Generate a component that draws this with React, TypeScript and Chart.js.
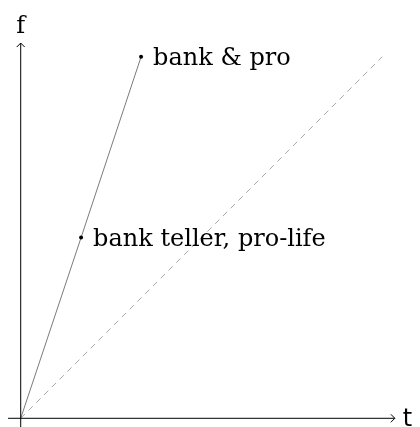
import React, { useEffect, useRef } from "react";
import { Chart, registerables } from "chart.js";

Chart.register(...registerables);

// data (t = truth, f = frequency)
const tValues = [0, 0.167, 0.333];
const fValues = [0, 0.5, 1.0];
const pointLabels = ["", "bank teller, pro-life", "bank & pro"];
const diagT = [0, 1];
const diagF = [0, 1];
const xAxisRange = [-0.035, 1.035];
const yAxisRange = [-0.035, 1.038];
const xAxisTitle = "t";
const yAxisTitle = "f";

const axesPlugin = {
  id: "tikzAxes",
  afterDatasetsDraw(chart: any) {
    const { ctx, scales } = chart;
    const xs = scales.x;
    const ys = scales.y;
    const x0 = xs.getPixelForValue(0);
    const y0 = ys.getPixelForValue(0);
    ctx.save();
    ctx.strokeStyle = "#000";
    ctx.lineWidth = 1;
    // x axis
    const xa = xs.getPixelForValue(xAxisRange[0]);
    const xb = xs.getPixelForValue(xAxisRange[1]);
    ctx.beginPath();
    ctx.moveTo(xa, y0);
    ctx.lineTo(xb, y0);
    ctx.stroke();
    ctx.beginPath();
    ctx.moveTo(xb - 4, y0 - 4);
    ctx.lineTo(xb, y0);
    ctx.lineTo(xb - 4, y0 + 4);
    ctx.stroke();
    // y axis
    const ya = ys.getPixelForValue(yAxisRange[0]);
    const yb = ys.getPixelForValue(yAxisRange[1]);
    ctx.beginPath();
    ctx.moveTo(x0, ya);
    ctx.lineTo(x0, yb);
    ctx.stroke();
    ctx.beginPath();
    ctx.moveTo(x0 - 4, yb + 4);
    ctx.lineTo(x0, yb);
    ctx.lineTo(x0 + 4, yb + 4);
    ctx.stroke();
    // axis titles
    ctx.fillStyle = "#000";
    ctx.font = "24px 'DejaVu Sans'";
    ctx.textAlign = "left";
    ctx.textBaseline = "middle";
    ctx.fillText(xAxisTitle, xb + 8, y0 + 1);
    ctx.font = "24px 'DejaVu Serif'";
    ctx.textAlign = "center";
    ctx.textBaseline = "alphabetic";
    ctx.fillText(yAxisTitle, x0, yb - 10);
    // point labels
    ctx.textAlign = "left";
    ctx.font = "24px 'DejaVu Serif'";
    for (let i = 0; i < pointLabels.length; i++) {
      if (!pointLabels[i]) continue;
      const px = xs.getPixelForValue(tValues[i]);
      const py = ys.getPixelForValue(fValues[i]);
      ctx.fillText(pointLabels[i], px + 12, py + 8);
    }
    ctx.restore();
  },
};

export default function App() {
  const ref = useRef<HTMLCanvasElement>(null);
  useEffect(() => {
    if (!ref.current) return;
    const chart = new Chart(ref.current, {
      type: "scatter",
      data: {
        datasets: [
          {
            data: diagT.map((t, i) => ({ x: t, y: diagF[i] })),
            showLine: true,
            borderColor: "#a8a8a8",
            borderWidth: 1,
            borderDash: [6, 5],
            pointRadius: 0,
            clip: false,
          },
          {
            data: tValues.map((t, i) => ({ x: t, y: fValues[i] })),
            showLine: true,
            borderColor: "#7a7a7a",
            borderWidth: 1,
            pointRadius: tValues.map((_, i) => (pointLabels[i] ? 2 : 0)),
            pointBackgroundColor: "#000",
            pointBorderWidth: 0,
            clip: false,
          },
        ],
      },
      options: {
        responsive: false,
        animation: false,
        layout: { padding: 0, autoPadding: false },
        plugins: { legend: { display: false }, tooltip: { enabled: false } },
        scales: {
          x: { type: "linear", display: false, min: -0.0573, max: 1.1046 },
          y: { type: "linear", display: false, min: -0.0241, max: 1.1571 },
        },
      },
      plugins: [axesPlugin],
    });
    return () => chart.destroy();
  }, []);
  return (
    <div style={{ position: "absolute", left: 0, top: 0, width: 420, height: 427, background: "#fff" }}>
      <canvas ref={ref} width={420} height={427} style={{ display: "block" }} />
    </div>
  );
}
